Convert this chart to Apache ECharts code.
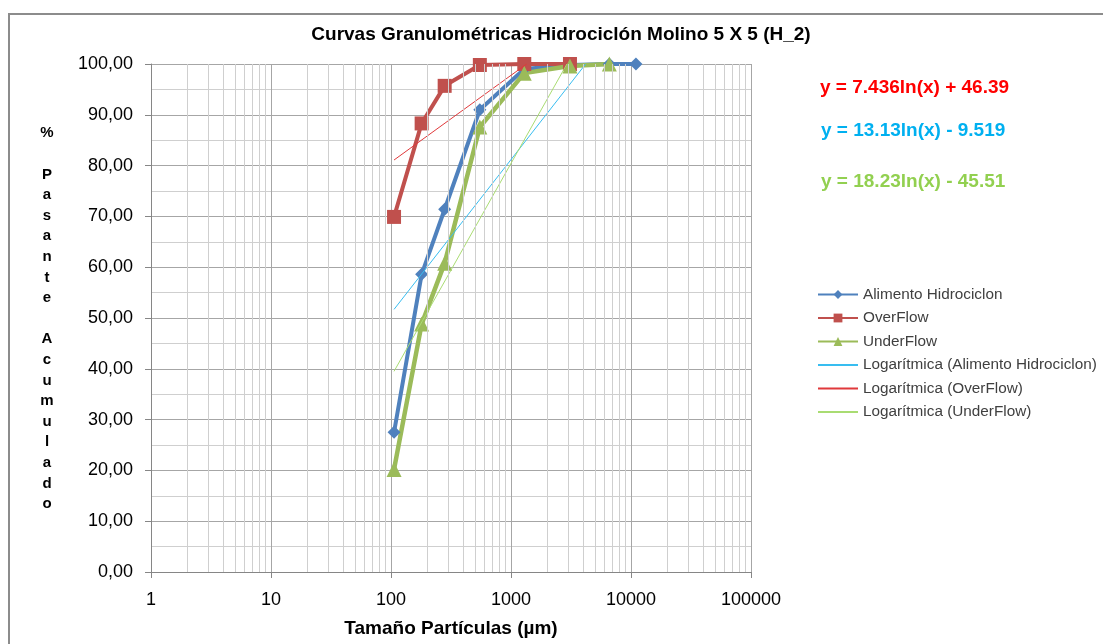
<!DOCTYPE html>
<html><head><meta charset="utf-8">
<script src="https://cdn.jsdelivr.net/npm/echarts@6/dist/echarts.min.js"></script>
<style>html,body{margin:0;padding:0;background:#fff}#c{width:1103px;height:644px}</style>
</head><body><div id="c"></div>
<script>
// ---- data ----
const sizes = [106, 180, 280, 550, 1290, 3100, 6600, 11000];        // µm
const alimento = [27.5, 58.6, 71.4, 91.0, 99.0, 99.8, 100, 100];
const overflow = [69.9, 88.3, 95.7, 99.8, 100, 100];
const underflow = [20.2, 48.8, 60.8, 87.6, 98.2, 99.6, 100];
// log trend lines (endpoints, clipped at 100)
const trendAlimento = [[106, 51.7], [4190, 100]];
const trendOver = [[106, 81.1], [1350, 100]];
const trendUnder = [[106, 39.5], [2925, 100]];
const equations = ['y = 7.436ln(x) + 46.39', 'y = 13.13ln(x) - 9.519', 'y = 18.23ln(x) - 45.51'];
const seriesNames = ['Alimento Hidrociclon', 'OverFlow', 'UnderFlow',
  'Logarítmica (Alimento Hidrociclon)', 'Logarítmica (OverFlow)', 'Logarítmica (UnderFlow)'];
const titleText = 'Curvas Granulométricas Hidrociclón Molino 5 X 5 (H_2)';
const xName = 'Tamaño Partículas (µm)';
const yName = '%\n\nP\na\ns\na\nn\nt\ne\n\nA\nc\nu\nm\nu\nl\na\nd\no';

const FONT = 'Liberation Sans, Arial, sans-serif';
const pair = (xs, ys) => ys.map((y, i) => [xs[i], y]);

// minor vertical grid values (2..9 of each decade)
const minorX = [];
for (let d = 0; d < 5; d++) for (let m = 2; m <= 9; m++) minorX.push(m * Math.pow(10, d));

const chart = echarts.init(document.getElementById('c'), null, {renderer: 'canvas'});
chart.setOption({
  animation: false,
  backgroundColor: '#fff',
  textStyle: {fontFamily: FONT},
  grid: {left: 151, right: 352, top: 64, bottom: 72, containLabel: false},
  xAxis: {
    type: 'log', logBase: 10, min: 1, max: 100000,
    name: xName, nameLocation: 'middle', nameGap: 47,
    nameTextStyle: {fontSize: 19, fontWeight: 'bold', color: '#000', fontFamily: FONT},
    axisLine: {show: true, lineStyle: {color: '#868686', width: 1}},
    axisTick: {show: true, inside: false, length: 6, lineStyle: {color: '#868686'}},
    axisLabel: {fontSize: 18, color: '#000', margin: 19, fontFamily: FONT,
      formatter: v => String(Math.round(v))},
    splitLine: {show: true, lineStyle: {color: '#a6a6a6', width: 1}},
    minorTick: {show: false}, minorSplitLine: {show: false}
  },
  yAxis: {
    type: 'value', min: 0, max: 100, interval: 10,
    axisLine: {show: true, lineStyle: {color: '#868686', width: 1}},
    axisTick: {show: true, inside: false, length: 6, lineStyle: {color: '#868686'}},
    axisLabel: {fontSize: 18, color: '#000', margin: 18, fontFamily: FONT,
      formatter: v => v.toFixed(2).replace('.', ',')},
    splitLine: {show: true, lineStyle: {color: '#a6a6a6', width: 1}},
    minorTick: {show: false, splitNumber: 2},
    minorSplitLine: {show: true, lineStyle: {color: '#cfcfcf', width: 1}}
  },
  legend: {
    orient: 'vertical', left: 812, top: 282,
    itemWidth: 40, itemHeight: 11, itemGap: 8.5,
    textStyle: {fontSize: 15.3, color: '#404040', fontFamily: FONT},
    data: [
      {name: seriesNames[0]}, {name: seriesNames[1]}, {name: seriesNames[2]},
      {name: seriesNames[3], itemStyle: {opacity: 0}},
      {name: seriesNames[4], itemStyle: {opacity: 0}},
      {name: seriesNames[5], itemStyle: {opacity: 0}}
    ]
  },
  graphic: [
    {type: 'rect', shape: {x: 9, y: 14, width: 1200, height: 700}, silent: true,
      style: {fill: 'none', stroke: '#8c8c8c', lineWidth: 2}, z: -10},
    {type: 'text', x: 561, y: 35, silent: true,
      style: {text: titleText, font: 'bold 19px ' + FONT, fill: '#000', textAlign: 'center', textVerticalAlign: 'middle'}},
    {type: 'text', x: 47, y: 123, silent: true,
      style: {text: yName, font: 'bold 15px ' + FONT, fill: '#000', textAlign: 'center', lineHeight: 20.6}},
    {type: 'text', x: 820, y: 88, silent: true,
      style: {text: equations[0], font: 'bold 19px ' + FONT, fill: '#ff0000', textVerticalAlign: 'middle'}},
    {type: 'text', x: 821, y: 131, silent: true,
      style: {text: equations[1], font: 'bold 19px ' + FONT, fill: '#00b0f0', textVerticalAlign: 'middle'}},
    {type: 'text', x: 821, y: 182, silent: true,
      style: {text: equations[2], font: 'bold 19px ' + FONT, fill: '#92d050', textVerticalAlign: 'middle'}}
  ],
  series: [
    {name: 'minorGrid', type: 'line', data: [], z: 1, silent: true,
      markLine: {silent: true, symbol: ['none', 'none'], label: {show: false},
        lineStyle: {color: '#cfcfcf', width: 1, type: 'solid'},
        data: minorX.map(v => ({xAxis: v}))}},
    {name: seriesNames[0], type: 'line', data: pair(sizes, alimento),
      symbol: 'diamond', symbolSize: 13, showAllSymbol: true,
      lineStyle: {color: '#4f81bd', width: 4}, itemStyle: {color: '#4f81bd'}, z: 3},
    {name: seriesNames[1], type: 'line', data: pair(sizes, overflow),
      symbol: 'rect', symbolSize: 14, showAllSymbol: true,
      lineStyle: {color: '#c0504d', width: 4}, itemStyle: {color: '#c0504d'}, z: 3},
    {name: seriesNames[2], type: 'line', data: pair(sizes, underflow),
      symbol: 'triangle', symbolSize: 15, showAllSymbol: true,
      lineStyle: {color: '#9bbb59', width: 4.5}, itemStyle: {color: '#9bbb59'}, z: 3},
    {name: seriesNames[3], type: 'line', data: trendAlimento, symbol: 'none',
      lineStyle: {color: '#38bdf0', width: 1}, itemStyle: {color: '#38bdf0'}, z: 4},
    {name: seriesNames[4], type: 'line', data: trendOver, symbol: 'none',
      lineStyle: {color: '#e0393b', width: 1}, itemStyle: {color: '#e0393b'}, z: 4},
    {name: seriesNames[5], type: 'line', data: trendUnder, symbol: 'none',
      lineStyle: {color: '#a9dc72', width: 1}, itemStyle: {color: '#a9dc72'}, z: 4}
  ]
});
</script></body></html>
